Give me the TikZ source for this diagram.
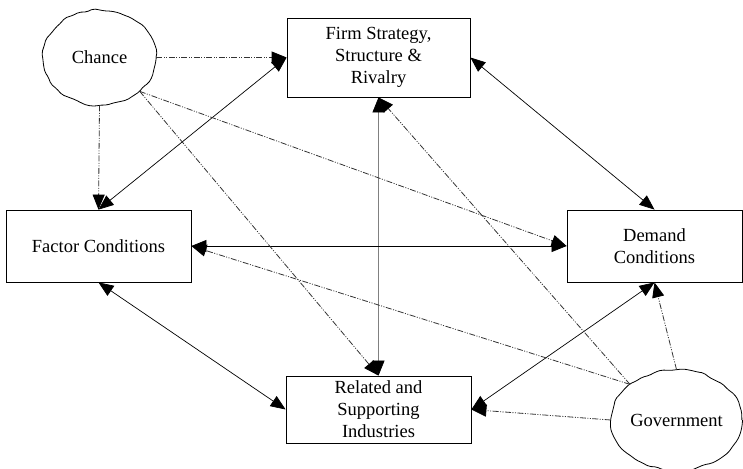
\documentclass[tikz,border=0pt]{standalone}
\usepackage{fontspec}
\setmainfont{Liberation Serif}
\usetikzlibrary{arrows.meta,shapes.geometric,decorations.pathmorphing}
\begin{document}
\begin{tikzpicture}[x=1pt,y=-1pt,
  font=\fontsize{18.5}{22}\selectfont,
  box/.style={draw,line width=0.8pt,align=center,inner sep=0pt},
  blob/.style={ellipse,draw,line width=0.8pt,inner sep=0pt,
    decorate,decoration={random steps,segment length=7pt,amplitude=1.2pt},rounded corners=2pt},
  link/.style={line width=0.7pt,
    {Triangle[length=15pt,width=12pt,color=black]}-{Triangle[length=15pt,width=12pt,color=black]}},
  push/.style={line width=0.8pt,black!80,
    dash pattern=on 6pt off 1.5pt on 1pt off 1.5pt on 1pt off 1.5pt,
    -{Triangle[length=15pt,width=12pt,color=black]}}]
  \clip (0,0) rectangle (743,468);
  % the four boxes
  \node[box,minimum width=183pt,minimum height=79pt] (firm) at (378.5,57.5) {Firm Strategy,\\Structure \&\\Rivalry};
  \node[box,minimum width=185pt,minimum height=72pt] (factor) at (98.5,246) {Factor Conditions};
  \node[box,minimum width=175pt,minimum height=72pt] (demand) at (654.5,246) {Demand\\Conditions};
  \node[box,minimum width=185pt,minimum height=67pt] (related) at (378.5,409.5) {Related and\\Supporting\\Industries};
  % the two outside forces
  \node[blob,minimum width=113pt,minimum height=95pt] (chance) at (99.5,57.5) {Chance};
  \node[blob,minimum width=121pt,minimum height=100pt] (gov) at (676.5,420) {Government};
  % links of the diamond
  \draw[link] (factor.north) -- (firm.west);
  \draw[link] (firm.east) -- (demand.north);
  \draw[link,gray] (firm.south) -- (related.north);
  \draw[link] (factor.east) -- (demand.west);
  \draw[link] (factor.south) -- (related.west);
  \draw[link] (related.east) -- (demand.south);
  % chance
  \draw[push] (chance.east) -- (firm.west);
  \draw[push] (chance.south) -- (factor.north);
  \draw[push] (chance.south east) -- (demand.west);
  \draw[push] (chance.south east) -- (related.north);
  % government
  \draw[push] (gov.north west) -- (factor.east);
  \draw[push] (gov.north west) -- (firm.south);
  \draw[push] (gov.west) -- (related.east);
  \draw[push] (gov.north) -- (demand.south);
\end{tikzpicture}
\end{document}
